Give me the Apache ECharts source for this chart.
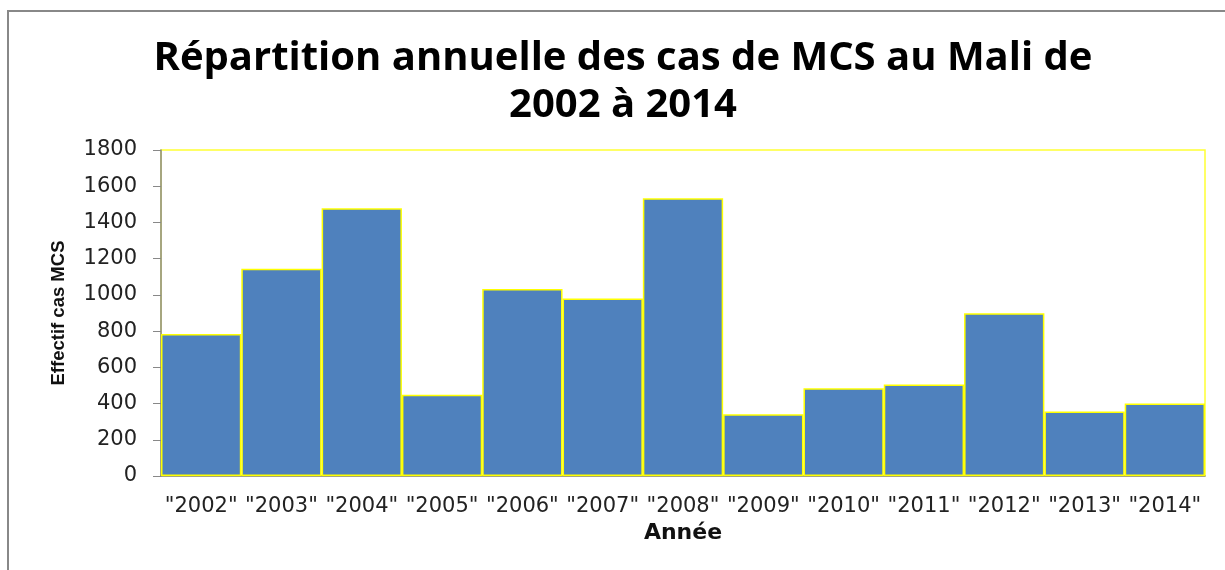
<!DOCTYPE html>
<html>
<head>
<meta charset="utf-8">
<script src="https://cdn.jsdelivr.net/npm/echarts@6/dist/echarts.min.js"></script>
<style>html,body{margin:0;padding:0;background:#fff}#c{width:1225px;height:570px}</style>
</head>
<body>
<div id="c"></div>
<script>
var categories = ['"2002"','"2003"','"2004"','"2005"','"2006"','"2007"','"2008"','"2009"','"2010"','"2011"','"2012"','"2013"','"2014"'];
var cases = [784, 1145, 1479, 448, 1033, 980, 1533, 341, 485, 505, 898, 356, 400];
var yTicks = [0, 200, 400, 600, 800, 1000, 1200, 1400, 1600, 1800];

var chart = echarts.init(document.getElementById('c'), null, {renderer: 'canvas'});
chart.setOption({
  backgroundColor: '#ffffff',
  animation: false,
  graphic: [{
    type: 'rect', z: 0,
    shape: {x: 8, y: 11, width: 1400, height: 800},
    style: {fill: 'none', stroke: '#888888', lineWidth: 2}
  }],
  title: {
    text: 'Répartition annuelle des cas de MCS au Mali de\n2002 à 2014',
    left: 618, top: 30, textAlign: 'center',
    textStyle: {fontFamily: 'Open Sans', fontWeight: 'bold', fontSize: 40, lineHeight: 47, color: '#000'}
  },
  grid: {left: 161, right: 20, top: 150, bottom: 94, show: true, borderColor: '#ffff33', borderWidth: 1.5, backgroundColor: 'transparent'},
  xAxis: {
    type: 'category', data: categories,
    name: 'Année', nameLocation: 'middle', nameGap: 44,
    nameTextStyle: {fontFamily: 'DejaVu Sans', fontWeight: 'bold', fontSize: 22, color: '#111'},
    axisLine: {show: true, lineStyle: {color: '#888888', width: 1.5}},
    axisTick: {show: false},
    axisLabel: {fontFamily: 'DejaVu Sans', fontSize: 21, color: '#222', margin: 20, interval: 0}
  },
  yAxis: {
    type: 'value', min: 0, max: 1800, interval: 200,
    name: 'Effectif cas MCS', nameLocation: 'middle', nameGap: 93,
    nameTextStyle: {fontFamily: 'Liberation Sans', fontWeight: 'bold', fontSize: 18.5, color: '#111'},
    axisLine: {show: true, lineStyle: {color: '#888888', width: 1.5}},
    axisTick: {show: true, length: 8, lineStyle: {color: '#888888'}},
    splitLine: {show: false},
    axisLabel: {fontFamily: 'DejaVu Sans', fontSize: 21, color: '#222', margin: 24,
      formatter: function (v) { return yTicks.indexOf(v) >= 0 ? String(v) : ''; }}
  },
  series: [{
    type: 'bar', data: cases, barCategoryGap: '0%',
    itemStyle: {color: '#4f81bd', borderColor: '#ffff00', borderWidth: 1.5}
  }]
});
</script>
</body>
</html>
